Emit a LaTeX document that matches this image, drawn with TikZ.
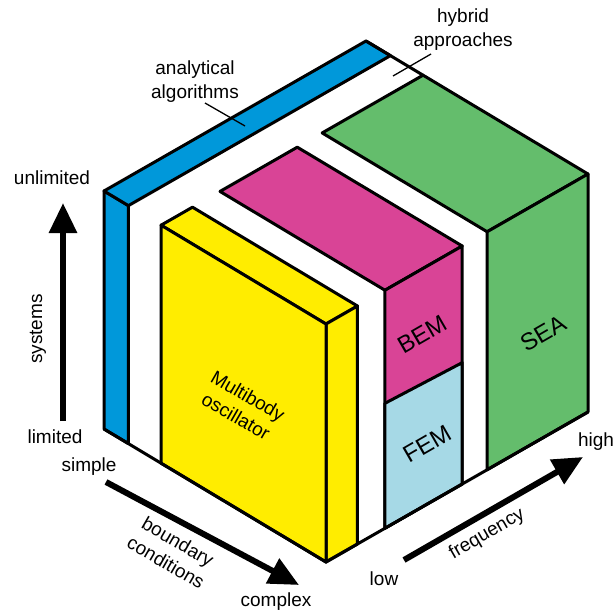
\documentclass[tikz,border=0pt]{standalone}
\usepackage{fontspec}
\setmainfont{Liberation Sans}
\usetikzlibrary{arrows.meta}
\definecolor{anablue}{RGB}{0,152,218}
\definecolor{oscyellow}{RGB}{255,237,0}
\definecolor{bemmagenta}{RGB}{217,68,150}
\definecolor{femblue}{RGB}{166,217,230}
\definecolor{seagreen}{RGB}{100,189,108}
\tikzstyle{face}=[draw=black,line width=3pt,line join=round]
\tikzstyle{axis}=[line width=6pt,-{Triangle[length=30pt,width=27pt]}]
\tikzstyle{axistext}=[font=\fontsize{19}{24}\selectfont,align=center,inner sep=0pt]
\tikzstyle{blocktext}=[font=\fontsize{24}{26}\selectfont,inner sep=0pt]
\tikzstyle{leader}=[line width=1.3pt]

\begin{document}
\begin{tikzpicture}[x=1pt,y=-1pt]
    \useasboundingbox (0,0) rectangle (616,614);
    % The cube in its own axes: x = frequency, y = boundary conditions, z = systems
    \begin{scope}[shift={(104pt,-429pt)},x={(262pt,150pt)},y={(222pt,-133pt)},z={(0pt,238pt)}]
        % First the thin slab at the back
        \draw[face,fill=anablue] (0,0,0) -- (0,0.11,0) -- (0,0.11,1) -- (0,0,1) -- cycle;
        \draw[face,fill=anablue] (0,0,1) -- (1,0,1) -- (1,0.11,1) -- (0,0.11,1) -- cycle;
        % Then the blocks, from the back to the front
        \foreach \ua/\ub/\col in {0.615/1/seagreen, 0.225/0.52/bemmagenta, 0/0.12/oscyellow} {
            \draw[face,fill=\col] (\ua,0.257,1) -- (\ub,0.257,1) -- (\ub,1,1) -- (\ua,1,1) -- cycle;
            \draw[face,fill=\col] (\ua,1,0) -- (\ub,1,0) -- (\ub,1,1) -- (\ua,1,1) -- cycle;
        }
        \draw[face,fill=femblue] (0.225,1,0) -- (0.52,1,0) -- (0.52,1,0.51) -- (0.225,1,0.525) -- cycle;
        \draw[face,fill=oscyellow] (0,0.257,0) -- (0,1,0) -- (0,1,1) -- (0,0.257,1) -- cycle;
        % Edges of the cube
        \draw[face] (0,0,0) -- (0,1,0) -- (1,1,0);
        \draw[face] (1,0,1) -- (1,0.257,1);
    \end{scope}
    % Labels of the blocks
    \node[axistext,rotate=-30] (mbo) at (242,406) {Multibody\\oscillator};
    \node[blocktext,rotate=30] (bem) at (422,334) {BEM};
    \node[blocktext,rotate=30] (fem) at (427,444) {FEM};
    \node[blocktext,rotate=30] (sea) at (543,333) {SEA};
    % Labels with leaders
    \node[axistext] (ana) at (195,82) {analytical\\algorithms};
    \node[axistext] (hyb) at (463,30) {hybrid\\approaches};
    \coordinate (anaFrom) at (205,103);
    \coordinate (anaTo) at (245,126);
    \coordinate (hybFrom) at (431,54);
    \coordinate (hybTo) at (393,76);
    \draw[leader] (anaFrom) -- (anaTo);
    \draw[leader] (hybFrom) -- (hybTo);
    % Axes
    \node[axistext] (unlim) at (52,178) {unlimited};
    \node[axistext] (lim) at (55,437) {limited};
    \node[axistext,rotate=90] (sys) at (38,329) {systems};
    \node[axistext] (simple) at (89,467) {simple};
    \node[axistext] (complex) at (276,602) {complex};
    \node[axistext,rotate=-30] (bound) at (172,552) {boundary\\conditions};
    \node[axistext] (low) at (384,579) {low};
    \node[axistext] (high) at (596,442) {high};
    \node[axistext,rotate=30] (freq) at (487,534) {frequency};
    \coordinate (sysFrom) at (63,421);
    \coordinate (sysTo) at (63,203);
    \coordinate (bcFrom) at (106,482);
    \coordinate (bcTo) at (299,585);
    \coordinate (frFrom) at (404,560);
    \coordinate (frTo) at (583,457);
    \foreach \source/\dest in {sysFrom/sysTo, bcFrom/bcTo, frFrom/frTo}
        \draw[axis] (\source) -- (\dest);
\end{tikzpicture}
\end{document}
